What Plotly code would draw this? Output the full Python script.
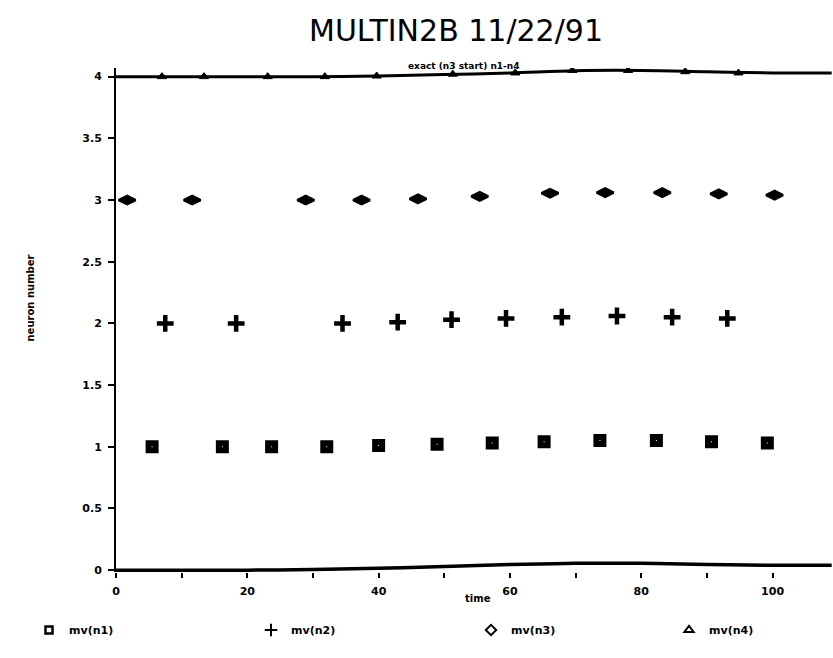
import plotly.graph_objects as go

# ---- data ----
n1_t = [5.5, 16.2, 23.7, 32.1, 40.0, 48.9, 57.3, 65.2, 73.7, 82.3, 90.7, 99.2]
n1_v = [1.0, 1.0, 1.0, 1.0, 1.01, 1.02, 1.03, 1.04, 1.05, 1.05, 1.04, 1.03]

n2_t = [7.5, 18.3, 34.5, 42.9, 51.1, 59.4, 67.9, 76.3, 84.7, 93.1]
n2_v = [2.0, 2.0, 2.0, 2.01, 2.03, 2.04, 2.05, 2.06, 2.05, 2.04]

n3_t = [1.7, 11.6, 28.9, 37.4, 46.0, 55.4, 66.1, 74.5, 83.2, 91.8, 100.3]
n3_v = [3.0, 3.0, 3.0, 3.0, 3.01, 3.03, 3.055, 3.06, 3.06, 3.05, 3.04]

n4_t = [7.0, 13.4, 23.1, 31.8, 39.7, 51.3, 60.8, 69.5, 78.0, 86.7, 94.8]
n4_v = [4.0, 4.0, 4.0, 4.0, 4.005, 4.02, 4.03, 4.05, 4.05, 4.04, 4.03]

upper_t = [0, 10, 20, 30, 40, 50, 60, 70, 80, 90, 100, 109]
upper_v = [4.0, 4.0, 4.0, 4.0, 4.005, 4.017, 4.03, 4.048, 4.05, 4.04, 4.03, 4.03]

lower_t = [0, 10, 20, 30, 40, 50, 60, 70, 80, 90, 100, 109]
lower_v = [0.0, 0.0, 0.0, 0.005, 0.015, 0.03, 0.045, 0.055, 0.055, 0.045, 0.04, 0.04]

x_ticks = [0, 10, 20, 30, 40, 50, 60, 70, 80, 90, 100]
x_tick_text = ["0", "", "20", "", "40", "", "60", "", "80", "", "100"]
y_ticks = [0, 0.5, 1, 1.5, 2, 2.5, 3, 3.5, 4]
y_tick_text = ["0", "0.5", "1", "1.5", "2", "2.5", "3", "3.5", "4"]

series_names = ["mv(n1)", "mv(n2)", "mv(n3)", "mv(n4)"]

# ---- layout geometry ----
W, H = 833, 658
L, R, T, B = 116, 0, 68, 86
pw, ph = W - L - R, H - T - B

def px(xp):
    return (xp - L) / pw

def py(yp):
    return (H - B - yp) / ph

lab_font = dict(family="DejaVu Sans", size=11, color="black", weight="bold")

fig = go.Figure()
fig.add_trace(go.Scatter(x=upper_t, y=upper_v, mode="lines", line=dict(color="black", width=3, shape="spline"),
                         showlegend=False, hoverinfo="skip"))
fig.add_trace(go.Scatter(x=lower_t, y=lower_v, mode="lines", line=dict(color="black", width=3.5, shape="spline"),
                         showlegend=False, hoverinfo="skip"))

plot_markers = [
    dict(symbol="square-open", size=7, color="black", line=dict(width=6, color="black")),
    dict(symbol="cross-thin", size=12, color="black", line=dict(width=4.5, color="black")),
    dict(symbol="diamond-wide", size=12, color="black", line=dict(width=2.5, color="black")),
    dict(symbol="triangle-up", size=8, color="black", line=dict(width=1, color="black")),
]
legend_markers = [
    dict(symbol="square-open", size=7, color="black", line=dict(width=2.5, color="black")),
    dict(symbol="cross-thin", size=9, color="black", line=dict(width=2, color="black")),
    dict(symbol="diamond-open", size=8, color="black", line=dict(width=2, color="black")),
    dict(symbol="triangle-up-open", size=8, color="black", line=dict(width=2, color="black")),
]
series_t = [n1_t, n2_t, n3_t, n4_t]
series_v = [n1_v, n2_v, n3_v, n4_v]
legend_ids = ["legend", "legend2", "legend3", "legend4"]

for i in range(4):
    fig.add_trace(go.Scatter(x=series_t[i], y=series_v[i], mode="markers", name=series_names[i],
                             marker=plot_markers[i], showlegend=False))
    fig.add_trace(go.Scatter(x=[None], y=[None], mode="markers", name=series_names[i],
                             marker=legend_markers[i], legend=legend_ids[i], showlegend=True))

leg_common = dict(orientation="h", xanchor="left", yanchor="middle", font=lab_font,
                  bgcolor="rgba(0,0,0,0)", y=py(630))
leg_sym_px = [48, 270, 490, 688]

fig.update_layout(
    width=W, height=H,
    margin=dict(l=L, r=R, t=T, b=B),
    paper_bgcolor="white", plot_bgcolor="white",
    title=dict(text="MULTIN2B 11/22/91", x=456 / W, xanchor="center", y=1 - 30 / H, yanchor="middle",
               font=dict(family="DejaVu Sans", size=30, color="black")),
    xaxis=dict(range=[0, 109.2], tickvals=x_ticks, ticktext=x_tick_text, ticks="outside", ticklen=5,
               tickwidth=1.5, tickcolor="black", showgrid=False, zeroline=False, showline=False,
               tickfont=lab_font, ticklabelstandoff=4),
    yaxis=dict(range=[-0.015, 4.07], tickvals=y_ticks, ticktext=y_tick_text, ticks="outside", ticklen=6,
               tickwidth=1.5, tickcolor="black", showgrid=False, zeroline=False, showline=True,
               linecolor="black", linewidth=2, tickfont=lab_font, ticklabelstandoff=4),
    legend=dict(x=px(leg_sym_px[0] - 19), **leg_common),
    legend2=dict(x=px(leg_sym_px[1] - 19), **leg_common),
    legend3=dict(x=px(leg_sym_px[2] - 19), **leg_common),
    legend4=dict(x=px(leg_sym_px[3] - 19), **leg_common),
    annotations=[
        dict(text="exact (n3 start) n1-n4", x=px(463), y=py(59), xref="paper", yref="paper",
             showarrow=False, font=dict(family="DejaVu Sans", size=9, color="black", weight="bold")),
        dict(text="neuron number", x=px(22), y=py(298), xref="paper", yref="paper", textangle=-90,
             showarrow=False, font=dict(family="DejaVu Sans", size=10, color="black", weight="bold")),
        dict(text="time", x=px(478), y=py(598), xref="paper", yref="paper", yanchor="middle",
             showarrow=False, font=dict(family="DejaVu Sans", size=10, color="black", weight="bold")),
    ],
)

fig.write_html("out.html")
